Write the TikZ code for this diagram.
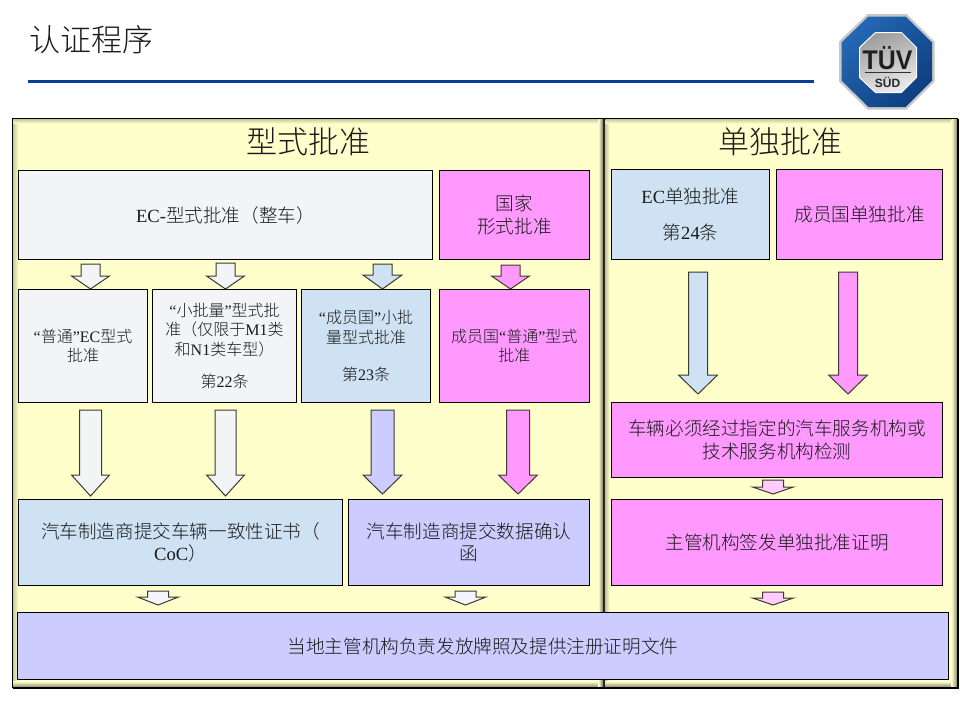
\documentclass[tikz,border=0pt]{standalone}
\usepackage{fontspec}
\setmainfont{Noto Sans CJK SC Light}
\newfontfamily\latn{Liberation Serif}
\newfontfamily\logofont{Liberation Sans}
\usetikzlibrary{calc}
\definecolor{panelY}{HTML}{FFFFCC}
\definecolor{panelT}{HTML}{C8C89A}
\definecolor{greyB}{HTML}{F2F4F5}
\definecolor{blueB}{HTML}{CFE2F3}
\definecolor{violetB}{HTML}{CCCCFF}
\definecolor{pinkB}{HTML}{FF99FF}
\definecolor{pinkL}{HTML}{FFCCFF}
\definecolor{paleA}{HTML}{F4F4FF}
\definecolor{ruleB}{HTML}{0B3E9A}
\definecolor{inkT}{HTML}{1A1A1A}
\definecolor{arrowE}{HTML}{3A3A30}
\definecolor{logoA}{HTML}{2468B4}
\definecolor{logoB}{HTML}{0E3F80}
\tikzset{
  panel/.style={draw=black,line width=1pt,fill=panelY,inner sep=0pt,anchor=north west},
  boxbig/.style={draw=black,line width=1pt,inner sep=0pt,align=center,text=inkT,
    font=\fontsize{18.6}{22.5}\selectfont},
  boxsmall/.style={boxbig,font=\fontsize{16}{19.2}\selectfont},
  blockarrow/.style={draw=arrowE,line width=1pt,line join=miter},
  headtext/.style={inner sep=0pt,text=inkT,font=\fontsize{31}{36}\selectfont}
}
% start, tip, shaft half-width, head half-width, head length, fill
\newcommand{\blockarr}[6]{%
  \draw[blockarrow,fill=#6]
    let \p1=(#1), \p2=(#2) in
    (\x1-#3pt,\y1) -- (\x1+#3pt,\y1) -- (\x1+#3pt,\y2+#5pt) -- (\x1+#4pt,\y2+#5pt)
    -- (\x2,\y2) -- (\x1-#4pt,\y2+#5pt) -- (\x1-#3pt,\y2+#5pt) -- cycle;}
\begin{document}
\begin{tikzpicture}[x=1pt,y=-1pt]
\useasboundingbox (-0.5,-0.5) rectangle (959.5,719.5);
\fill[white] (-1,-1) rectangle (961,721);

% title
\node[headtext] (title) at (91,39) {认证程序};
\coordinate (ruleA) at (27,81);
\coordinate (ruleB) at (813,81);
\draw[ruleB,line width=3pt] (ruleA) -- (ruleB);

% logo
\fill[white!78!black] (867,13.5) -- (906,13.5) -- (934,41) -- (934,81) -- (906,109) -- (867,109) -- (838.5,81) -- (838.5,41) -- cycle;
\shade[left color=logoA,right color=logoB,shading angle=45]
  (868,16) -- (905,16) -- (931.5,42) -- (931.5,80) -- (905,106.5) -- (868,106.5) -- (841,80) -- (841,42) -- cycle;
\shade[left color=white!62!black,right color=white!92!black,shading angle=20,draw=white,line width=1pt]
  (875,32) -- (901,32) -- (916,47) -- (916,77) -- (901,92) -- (875,92) -- (859,77) -- (859,47) -- cycle;
\node[inner sep=0pt,text=black!88,font=\logofont\bfseries\fontsize{27}{27}\selectfont,xscale=.92] (tuv) at (887,58) {TÜV};
\coordinate (tuvA) at (864,71.5);
\coordinate (tuvB) at (910,71.5);
\draw[black!80,line width=1pt] (tuvA) -- (tuvB);
\node[inner sep=0pt,text=black!85,font=\logofont\bfseries\fontsize{12}{12}\selectfont] (sud) at (887,82) {SÜD};

% panels
\node[panel,minimum width=592pt,minimum height=569pt] (pleft) at (12,118) {};
\node[panel,minimum width=353pt,minimum height=569pt] (pright) at (604,118) {};
\shade[left color=panelT,right color=panelY] (12.5,118.5) rectangle (18,686.5);
\shade[top color=panelT,bottom color=panelY] (12.5,118.5) rectangle (603.5,123);
\shade[top color=panelY,bottom color=panelT!70!black] (12.5,681) rectangle (603,686.5);
\shade[left color=panelY,right color=panelT!60!black] (598,118.5) rectangle (602.5,686.5);
\shade[left color=panelT,right color=panelY] (605,118.5) rectangle (609,686.5);
\shade[top color=panelT,bottom color=panelY] (605,118.5) rectangle (956.5,123);
\shade[top color=panelY,bottom color=panelT!70!black] (605,681) rectangle (956.5,686.5);
\shade[left color=panelY,right color=panelT!70!black] (951,118.5) rectangle (956.5,686.5);
\draw[black!85,line width=1.6pt] (603.5,118) -- (603.5,687);
\draw[black,line width=1pt] (12,118) rectangle (957,687);

\node[headtext] (hleft) at (307.5,141) {型式批准};
\node[headtext] (hright) at (780,141) {单独批准};

% top row
\node[boxbig,fill=greyB,minimum width=414pt,minimum height=89pt] (ec) at (225,214.5) {{\latn EC-}型式批准（整车）};
\node[boxbig,fill=pinkB,minimum width=150pt,minimum height=89pt] (nat) at (514,214.5) {国家\\形式批准};
\node[boxbig,fill=blueB,minimum width=158pt,minimum height=90pt] (ecs) at (690,214) {{\latn EC}单独批准\\[13pt]第{\latn 24}条};
\node[boxbig,fill=pinkB,minimum width=166pt,minimum height=90pt] (mss) at (859,214) {成员国单独批准};

% second row
\node[boxsmall,fill=greyB,minimum width=129pt,minimum height=113pt] (norm) at (82.5,345.5) {{\latn “}普通{\latn ”EC}型式\\批准};
\node[boxsmall,fill=greyB,minimum width=144pt,minimum height=113pt] (small) at (224,345.5) {{\latn “}小批量{\latn ”}型式批\\准（仅限于{\latn M1}类\\和{\latn N1}类车型）\\[13pt]第{\latn 22}条};
\node[boxsmall,fill=blueB,minimum width=129pt,minimum height=113pt] (msmall) at (365.5,345.5) {{\latn “}成员国{\latn ”}小批\\量型式批准\\[18pt]第{\latn 23}条};
\node[boxsmall,fill=pinkB,minimum width=150.5pt,minimum height=113pt] (mnorm) at (513.75,345.5) {成员国{\latn “}普通{\latn ”}型式\\批准};

% lower boxes
\node[boxbig,fill=pinkB,minimum width=331pt,minimum height=75pt] (test) at (776.5,439.5) {车辆必须经过指定的汽车服务机构或\\技术服务机构检测};
\node[boxbig,fill=blueB,minimum width=324pt,minimum height=86pt] (coc) at (180,542) {汽车制造商提交车辆一致性证书（\\{\latn CoC}）};
\node[boxbig,fill=violetB,minimum width=241pt,minimum height=86pt] (conf) at (468.5,542) {汽车制造商提交数据确认\\函};
\node[boxbig,fill=pinkB,minimum width=331pt,minimum height=86pt] (cert) at (776.5,542) {主管机构签发单独批准证明};
\node[boxbig,fill=violetB,minimum width=931pt,minimum height=67pt] (plate) at (482.5,645.5) {当地主管机构负责发放牌照及提供注册证明文件};

% block arrows
\path (ec.south -| 90,0) ++(0,4) coordinate (a1s);
\coordinate (a1t) at (norm.north -| 90,0);
\path (ec.south -| 225,0) ++(0,3) coordinate (a2s);
\coordinate (a2t) at (small.north -| 225,0);
\path (ec.south -| 382,0) ++(0,4) coordinate (a3s);
\coordinate (a3t) at (msmall.north -| 382,0);
\path (nat.south -| 510,0) ++(0,5) coordinate (a4s);
\coordinate (a4t) at (mnorm.north -| 510,0);
\blockarr{a1s}{a1t}{9.5}{19}{13}{greyB}
\blockarr{a2s}{a2t}{9.5}{19}{13}{greyB}
\blockarr{a3s}{a3t}{9.5}{19.5}{14}{blueB}
\blockarr{a4s}{a4t}{9.5}{19}{13}{pinkB}

\path (norm.south -| 90,0) ++(0,7) coordinate (a5s);
\path (coc.north -| 90,0) ++(0,-3) coordinate (a5t);
\path (small.south -| 225,0) ++(0,7) coordinate (a6s);
\path (coc.north -| 225,0) ++(0,-3) coordinate (a6t);
\path (msmall.south -| 382,0) ++(0,7) coordinate (a7s);
\path (conf.north -| 382,0) ++(0,-5) coordinate (a7t);
\path (mnorm.south -| 517.5,0) ++(0,7) coordinate (a8s);
\path (conf.north -| 517.5,0) ++(0,-5) coordinate (a8t);
\blockarr{a5s}{a5t}{11}{19}{21}{greyB}
\blockarr{a6s}{a6t}{10.5}{19}{21}{greyB}
\blockarr{a7s}{a7t}{11.5}{19.5}{19}{violetB}
\blockarr{a8s}{a8t}{11.5}{19.5}{19}{pinkB}

\path (ecs.south -| 697.5,0) ++(0,12) coordinate (a9s);
\path (test.north -| 697.5,0) ++(0,-8) coordinate (a9t);
\path (mss.south -| 847.5,0) ++(0,12) coordinate (a10s);
\path (test.north -| 847.5,0) ++(0,-8) coordinate (a10t);
\blockarr{a9s}{a9t}{9.5}{19.5}{19}{blueB}
\blockarr{a10s}{a10t}{9.5}{19.5}{19}{pinkB}

\path (test.south -| 772.5,0) ++(0,2) coordinate (a11s);
\path (cert.north -| 772.5,0) ++(0,-5) coordinate (a11t);
\path (cert.south -| 772.5,0) ++(0,6) coordinate (a12s);
\path (plate.north -| 772.5,0) ++(0,-7) coordinate (a12t);
\blockarr{a11s}{a11t}{10.5}{20.5}{7}{pinkL}
\blockarr{a12s}{a12t}{10.5}{20.5}{7}{pinkL}

\path (coc.south -| 157.5,0) ++(0,5) coordinate (a13s);
\path (plate.north -| 157.5,0) ++(0,-7) coordinate (a13t);
\path (conf.south -| 465,0) ++(0,5) coordinate (a14s);
\path (plate.north -| 465,0) ++(0,-7) coordinate (a14t);
\blockarr{a13s}{a13t}{10.5}{20.5}{8}{paleA}
\blockarr{a14s}{a14t}{10.5}{20.5}{8}{paleA}
\end{tikzpicture}
\end{document}
